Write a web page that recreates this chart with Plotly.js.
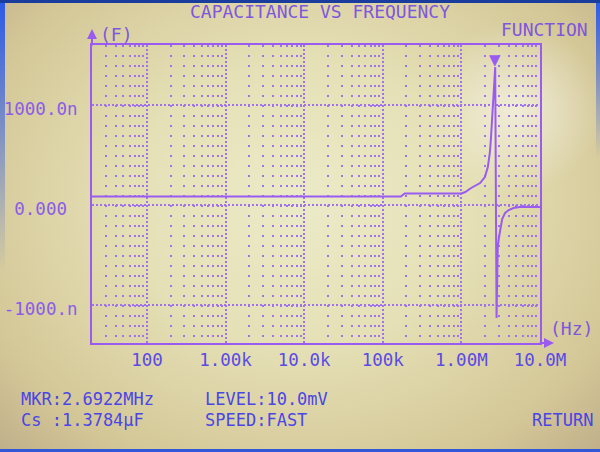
<!DOCTYPE html>
<html>
<head>
<meta charset="utf-8">
<script src="https://cdn.plot.ly/plotly-3.0.1.min.js"></script>
<style>
html, body { margin:0; padding:0; }
body {
  width:600px; height:452px; overflow:hidden; position:relative;
  background:
    linear-gradient(#1a3c9c,#1a3c9c) top / 100% 3px no-repeat,
    linear-gradient(#3158d6,#3158d6) bottom / 100% 3px no-repeat,
    linear-gradient(to bottom, #2c5ae8, rgba(44,90,232,0) 60%) left top / 5px 100% no-repeat,
    linear-gradient(to bottom, #2c5ae8, rgba(44,90,232,0) 35%) right top / 4px 100% no-repeat,
    radial-gradient(circle at 86% 24%, rgba(255,255,255,0.55), rgba(255,255,255,0) 14%),
    radial-gradient(ellipse at 50% 45%, #ecebc8 0%, #e5e0b6 40%, #d4c797 80%, #c0af8a 100%);
}
#chart { position:absolute; left:0; top:0; width:600px; height:452px; }
</style>
</head>
<body>
<div id="chart"></div>
<script>
const freqHz = [20, 50, 100, 200, 500, 1e3, 2e3, 5e3, 1e4, 2e4, 5e4, 1e5, 1.5e5, 1.7e5,
                1.9e5, 3e5, 5e5, 7e5, 1e6, 1.12e6, 1.33e6, 1.73e6, 1.99e6, 2.17e6, 2.30e6, 2.37e6,
                2.6922e6, 2.80e6, 2.90e6, 3.0e6, 3.15e6, 3.3e6, 3.6e6, 4.0e6, 4.6e6, 5.5e6, 7e6, 1e7];
const capNano = [85, 85, 85, 85, 85, 85, 85, 85, 85, 85, 85, 85, 85, 85,
                 115, 115, 115, 115, 115, 130, 170, 220, 280, 380, 520, 650,
                 1378.4, -1130, -420, -330, -220, -140, -80, -50, -30, -20, -20, -20];
const xTickVals = [100, 1e3, 1e4, 1e5, 1e6, 1e7];
const xTickText = ['100', '1.00k', '10.0k', '100k', '1.00M', '10.0M'];
const yTickVals = [1e-6, 0, -1e-6];
const yTickText = ['1000.0n', '0.000\u00a0', '-1000.n'];
const markerFreq = 2.6922e6;
const markerCs = 1.3784e-6;
const levelText = 'LEVEL:10.0mV';
const speedText = 'SPEED:FAST';

// ---- styling ----
const FONT = 'DejaVu Sans Mono';
const PURPLE = '#9a5cf0';
const GRID = '#a072ee';
const TOPTXT = '#7e57dc';
const BOTTXT = '#4a46e4';

const capF = capNano.map(v => v * 1e-9);

// minor log ticks (2..9 per decade) for the dotted columns
const minorVals = [];
for (let d = 1; d <= 6; d++) {
  for (let k = 2; k <= 9; k++) {
    const v = k * Math.pow(10, d);
    if (v >= 20 && v <= 1e7) minorVals.push(v);
  }
}

const trace = {
  x: freqHz, y: capF, type: 'scatter', mode: 'lines',
  line: { color: PURPLE, width: 2 }, hoverinfo: 'skip'
};

const px2x = p => (p - 92) / 448;
const px2y = p => (343 - p) / 298;

const txt = (text, xpx, ypx, anchor, color, size) => ({
  text: text, xref: 'paper', yref: 'paper', x: px2x(xpx), y: px2y(ypx),
  xanchor: anchor, yanchor: 'middle', showarrow: false,
  font: { family: FONT, size: size || 18, color: color }
});

const annotations = [
  txt('FUNCTION', 590, 29, 'right', TOPTXT),
  txt('(F)', 98, 34, 'left', TOPTXT, 18),
  txt('(Hz)', 548, 328, 'left', TOPTXT, 18),
  txt('MKR:' + (markerFreq / 1e6).toFixed(4) + 'MHz', 19, 399, 'left', BOTTXT, 17),
  txt('Cs :' + (markerCs * 1e6).toFixed(4) + 'μF', 19, 420, 'left', BOTTXT, 17),
  txt(levelText, 203, 399, 'left', BOTTXT, 17),
  txt(speedText, 203, 420, 'left', BOTTXT, 17),
  txt('RETURN', 595, 420, 'right', BOTTXT, 17),
  // axis arrows
  { text: '', xref: 'paper', yref: 'paper', x: 0, y: 1, yshift: 16, ax: 0, ay: 18,
    showarrow: true, arrowhead: 2, arrowsize: 1, arrowwidth: 2, arrowcolor: PURPLE },
  { text: '', xref: 'paper', yref: 'paper', x: 1, y: 0, xshift: 14, ax: -16, ay: 0,
    showarrow: true, arrowhead: 2, arrowsize: 1, arrowwidth: 2, arrowcolor: PURPLE },
  // marker triangle
  { text: '▼', xref: 'x', yref: 'y', x: Math.log10(markerFreq), y: markerCs,
    xanchor: 'center', yanchor: 'bottom', yshift: -4, showarrow: false,
    font: { family: 'DejaVu Sans', size: 15, color: PURPLE } }
];

const layout = {
  width: 600, height: 452,
  margin: { l: 92, r: 60, t: 45, b: 109, pad: 0 },
  paper_bgcolor: 'rgba(0,0,0,0)', plot_bgcolor: 'rgba(0,0,0,0)',
  showlegend: false,
  title: {
    text: 'CAPACITANCE VS FREQUENCY',
    font: { family: FONT, size: 18, color: TOPTXT },
    x: 320 / 600, xref: 'container', xanchor: 'center',
    y: 1 - 12 / 452, yref: 'container', yanchor: 'middle'
  },
  xaxis: {
    type: 'log', range: [Math.log10(20), 7],
    tickmode: 'array', tickvals: xTickVals, ticktext: xTickText,
    ticks: '', ticklabelstandoff: 0,
    tickfont: { family: FONT, size: 17.5, color: '#5a4ae6' },
    showline: true, mirror: true, linecolor: PURPLE, linewidth: 2,
    showgrid: true, gridcolor: GRID, gridwidth: 2, griddash: '2px,2px',
    minor: { tickmode: 'array', tickvals: minorVals, showgrid: true,
             gridcolor: GRID, gridwidth: 2, griddash: '2px,8px', ticks: '' },
    zeroline: false, fixedrange: true
  },
  yaxis: {
    range: [-1.38e-6, 1.6e-6],
    tickmode: 'array', tickvals: yTickVals, ticktext: yTickText,
    ticks: '', ticklabelstandoff: 9, ticklabelshift: 4,
    tickfont: { family: FONT, size: 17.5, color: '#8a5ce8' },
    showline: true, mirror: true, linecolor: PURPLE, linewidth: 2,
    showgrid: true, gridcolor: GRID, gridwidth: 2, griddash: '2px,2px',
    zeroline: false, fixedrange: true
  },
  annotations: annotations
};

Plotly.newPlot('chart', [trace], layout, { displayModeBar: false, staticPlot: true });
</script>
</body>
</html>
